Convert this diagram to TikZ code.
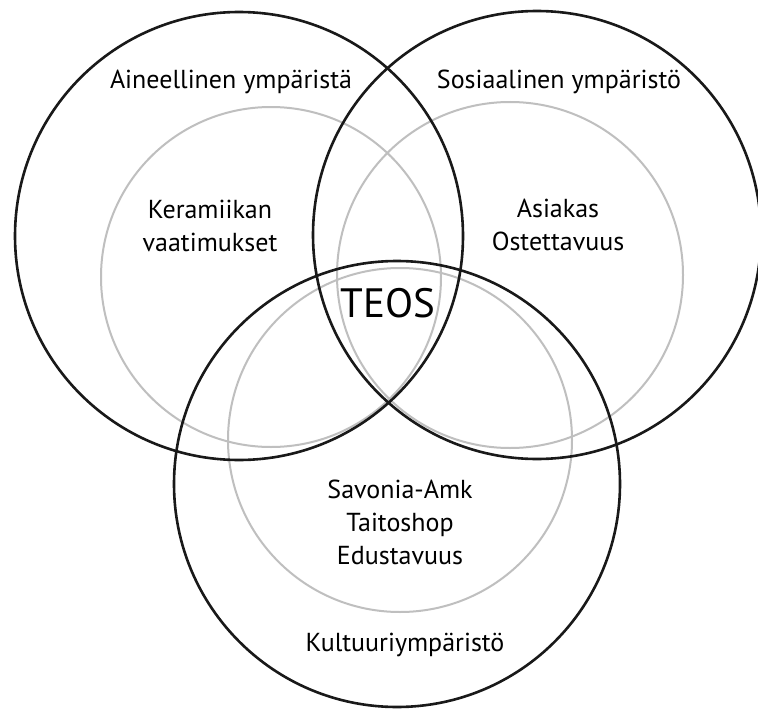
\documentclass[tikz,border=0pt]{standalone}
\usepackage{fontspec}
\setmainfont{PT Sans}
\tikzset{
  outer/.style={draw=black!90, line width=2.6pt},
  inner/.style={draw=black!25, line width=2pt},
  lbl/.style={font=\fontsize{26}{33}\selectfont, align=center, text=black, inner sep=0pt},
  big/.style={font=\fontsize{41}{44}\selectfont, text=black, inner sep=0pt}
}
\begin{document}
\begin{tikzpicture}[x=1pt,y=-1pt]
\useasboundingbox (0,0) rectangle (758,709);
\fill[white] (0,0) rectangle (758,709);
% inner grey circles
\draw[inner] (271,277) circle (170);
\draw[inner] (510,275) circle (173);
\draw[inner] (400,440) circle (172);
% outer circles
\draw[outer] (239,236) circle (224);
\draw[outer] (537,235) circle (224);
\draw[outer] (397,484) circle (223);
% labels
\node[lbl] (aine) at (231,82) {Aineellinen ympäristä};
\node[lbl] (sosi) at (559,82) {Sosiaalinen ympäristö};
\node[lbl] (kera) at (210,226) {Keramiikan\\vaatimukset};
\node[lbl] (asia) at (558,225) {Asiakas\\Ostettavuus};
\node[big] (teos) at (388,303) {TEOS};
\node[lbl] (savo) at (400,522) {Savonia-Amk\\Taitoshop\\Edustavuus};
\node[lbl] (kult) at (405,645) {Kultuuriympäristö};
\end{tikzpicture}
\end{document}
